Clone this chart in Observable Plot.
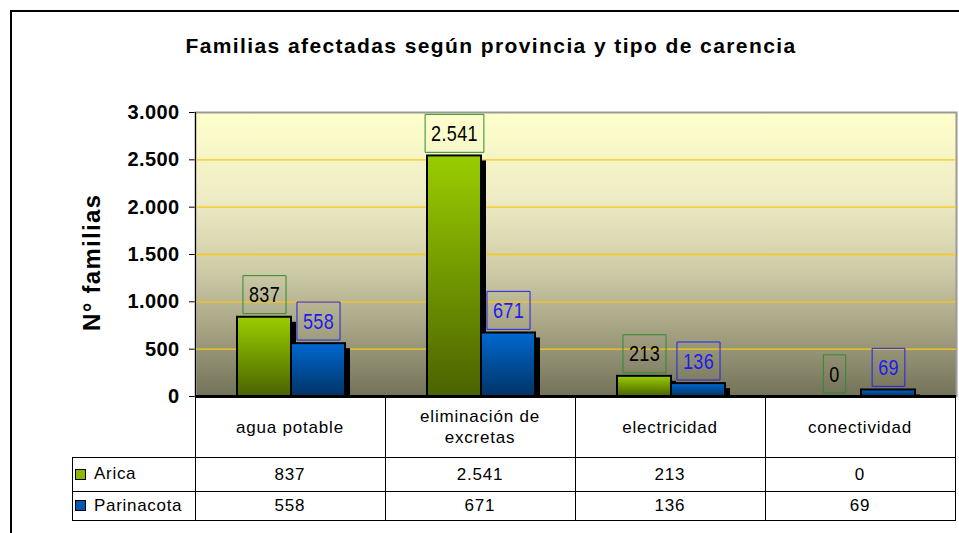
<!DOCTYPE html>
<html><head><meta charset="utf-8">
<script src="https://cdn.jsdelivr.net/npm/d3@7"></script>
<script src="https://cdn.jsdelivr.net/npm/@observablehq/plot@0.6"></script>
<style>
html,body{margin:0;padding:0;background:#fff;}
#wrap{position:relative;width:959px;height:533px;overflow:hidden;font-family:"Liberation Sans",Arial,sans-serif;color:#000;}
#wrap svg{position:absolute;left:0;top:0;}
#outer{position:absolute;left:10px;top:10px;width:1000px;height:600px;border-left:2px solid #000;border-top:2px solid #000;pointer-events:none;}
#title{position:absolute;left:0;width:982px;top:34px;line-height:24px;text-align:center;font-weight:bold;font-size:21px;letter-spacing:1.4px;white-space:nowrap;}
#ylab{position:absolute;width:138px;height:30px;line-height:30px;left:23px;top:247px;transform:rotate(-90deg);white-space:nowrap;font-weight:bold;font-size:24px;letter-spacing:1.3px;}
.cell{position:absolute;display:flex;flex-direction:column;align-items:center;justify-content:center;text-align:center;font-size:17px;letter-spacing:0.8px;line-height:21px;white-space:nowrap;}
.lcell{position:absolute;display:flex;align-items:center;font-size:17px;letter-spacing:0.7px;white-space:nowrap;}
.key{display:inline-block;width:9px;height:9px;border:1px solid #000;margin:0 8px 0 3px;}
.hl{position:absolute;height:1px;background:#000;}
.vl{position:absolute;width:1px;background:#000;}
.bgw{position:absolute;background:#fff;}
</style></head><body><div id="wrap"></div>
<script>
const categories = ["agua potable", "eliminación de excretas", "electricidad", "conectividad"];
const headerLines = [["agua potable"], ["eliminación de", "excretas"], ["electricidad"], ["conectividad"]];
const series = ["Arica", "Parinacota"];
const arica = [837, 2541, 213, 0];
const parinacota = [558, 671, 136, 69];
const yTicks = [0, 500, 1000, 1500, 2000, 2500, 3000];
const seriesColors = {Arica: {top: "#9ACD00", bottom: "#4A6300", key: "#8DB800", labelText: "#000000", labelBox: "#2E8B2E"},
                      Parinacota: {top: "#0068D0", bottom: "#003366", key: "#0058B0", labelText: "#1c1cf0", labelBox: "#2222ee"}};

const fmt = d => d3.format(",")(d).replace(/,/g, ".");
const rows = categories.flatMap((c, i) => [
  {cat: c, serie: "Arica", value: arica[i]},
  {cat: c, serie: "Parinacota", value: parinacota[i]}
]);
const A = rows.filter(d => d.serie === "Arica");
const P = rows.filter(d => d.serie === "Parinacota");
const barL = {insetLeft: 41, insetRight: 95};
const barR = {insetLeft: 95, insetRight: 41};
const labFont = "'Liberation Sans', Arial, sans-serif";
const narrow = 0.82;

const wrap = document.getElementById("wrap");

const plot = Plot.plot({
  width: 959, height: 400,
  marginLeft: 195, marginRight: 3, marginTop: 112, marginBottom: 4,
  style: {background: "transparent", fontFamily: "'Liberation Sans', Arial, sans-serif", fontSize: "20px", fontWeight: "bold", letterSpacing: "0.4px", overflow: "visible"},
  x: {domain: categories, padding: 0, axis: null},
  y: {domain: [0, 3000], ticks: yTicks, tickFormat: fmt, tickSize: 6, tickPadding: 10, label: null},
  marks: [
    Plot.frame({fill: "url(#bgGrad)", stroke: "#9a9a9a", strokeWidth: 2}),
    Plot.ruleY(yTicks.slice(1, -1), {stroke: "#f7c815", strokeWidth: 1.3}),
    Plot.barY(A, {x: "cat", y: "value", ...barL, fill: "#000", dx: 5, dy: 5}),
    Plot.barY(P, {x: "cat", y: "value", ...barR, fill: "#000", dx: 5, dy: 5}),
    Plot.barY(A, {x: "cat", y: "value", ...barL, fill: "url(#gA)", stroke: "#000", strokeWidth: 2}),
    Plot.barY(P, {x: "cat", y: "value", ...barR, fill: "url(#gP)", stroke: "#000", strokeWidth: 2}),
    Plot.ruleY([0], {stroke: "#000", strokeWidth: 3}),
    Plot.text(A, {x: "cat", y: "value", text: d => fmt(d.value), dx: -27, dy: -22, fill: seriesColors.Arica.labelText, fontSize: 22, fontWeight: "normal", fontFamily: labFont, ariaDescription: "lab-A"}),
    Plot.text(P, {x: "cat", y: "value", text: d => fmt(d.value), dx: 27, dy: -22, fill: seriesColors.Parinacota.labelText, fontSize: 22, fontWeight: "normal", fontFamily: labFont, ariaDescription: "lab-P"})
  ]
});
wrap.appendChild(plot);

const svg = d3.select(plot);
const defs = svg.insert("defs", ":first-child");
function grad(id, stops) {
  const g = defs.append("linearGradient").attr("id", id).attr("x1", 0).attr("y1", 0).attr("x2", 0).attr("y2", 1);
  stops.forEach(([o, c]) => g.append("stop").attr("offset", o).attr("stop-color", c));
}
grad("bgGrad", [[0, "#FFFFCC"], [0.3, "#EEECC4"], [0.55, "#CFCCA8"], [0.75, "#A9A686"], [1, "#727259"]]);
grad("gA", [[0, seriesColors.Arica.top], [1, seriesColors.Arica.bottom]]);
grad("gP", [[0, seriesColors.Parinacota.top], [1, seriesColors.Parinacota.bottom]]);

// narrow the label glyphs and draw boxes around the data labels
[["lab-A", seriesColors.Arica.labelBox], ["lab-P", seriesColors.Parinacota.labelBox]].forEach(([id, col]) => {
  const g = svg.select(`g[aria-description="${id}"]`);
  g.selectAll("text").each(function() {
    const tr = this.getAttribute("transform") || "";
    const t = `${tr} scale(${narrow},1)`;
    this.setAttribute("transform", t);
    const b = this.getBBox();
    const cx = b.x + b.width / 2, cy = b.y + b.height / 2;
    const w = b.width + 12 / narrow;
    g.insert("rect", ":first-child")
      .attr("x", cx - w / 2).attr("y", cy - 19)
      .attr("width", w).attr("height", 38)
      .attr("fill", "none").attr("stroke", col).attr("stroke-width", 1)
      .attr("vector-effect", "non-scaling-stroke")
      .attr("transform", t);
  });
});

// title, y label, outer frame
const title = document.createElement("div");
title.id = "title"; title.textContent = "Familias afectadas según provincia y tipo de carencia";
wrap.appendChild(title);
const ylab = document.createElement("div");
ylab.id = "ylab"; ylab.textContent = "N° familias";
wrap.appendChild(ylab);

// data table below the plot
const xs = plot.scale("x");
const ysc = plot.scale("y");
const left0 = xs.range[0];
const bw = xs.bandwidth;
const right0 = left0 + bw * categories.length;
const legendLeft = 72;
const rowY = [397, 457, 491, 520];
function div(cls, css, html) {
  const d = document.createElement("div"); d.className = cls;
  Object.assign(d.style, css); if (html != null) d.innerHTML = html; wrap.appendChild(d); return d;
}
div("bgw", {left: left0 + "px", top: "398px", width: (right0 - left0) + "px", height: (rowY[3] - 398) + "px"});
categories.forEach((c, i) => {
  div("cell", {left: (left0 + i * bw) + "px", top: rowY[0] + "px", width: bw + "px", height: (rowY[1] - rowY[0]) + "px"},
      headerLines[i].map(s => `<span>${s}</span>`).join(""));
});
[arica, parinacota].forEach((vals, r) => {
  const top = rowY[r + 1], h = rowY[r + 2] - rowY[r + 1];
  vals.forEach((v, i) => {
    div("cell", {left: (left0 + i * bw) + "px", top: top + "px", width: bw + "px", height: h + "px"}, fmt(v));
  });
  const s = series[r];
  div("lcell", {left: legendLeft + "px", top: top + "px", width: (left0 - legendLeft) + "px", height: h + "px"},
      `<span class="key" style="background:${seriesColors[s].key}"></span><span>${s}</span>`);
});
[rowY[1], rowY[2], rowY[3]].forEach(y => div("hl", {left: legendLeft + "px", top: y + "px", width: (right0 - legendLeft + 1) + "px"}));
div("vl", {left: legendLeft + "px", top: rowY[1] + "px", height: (rowY[3] - rowY[1] + 1) + "px"});
div("vl", {left: left0 + "px", top: Math.min(...ysc.range) + "px", height: (rowY[3] - Math.min(...ysc.range) + 1) + "px"});
for (let k = 1; k <= categories.length; k++) {
  div("vl", {left: Math.round(left0 + k * bw) + "px", top: rowY[0] + "px", height: (rowY[3] - rowY[0] + 1) + "px"});
}
const outer = document.createElement("div"); outer.id = "outer"; wrap.appendChild(outer);
</script></body></html>
